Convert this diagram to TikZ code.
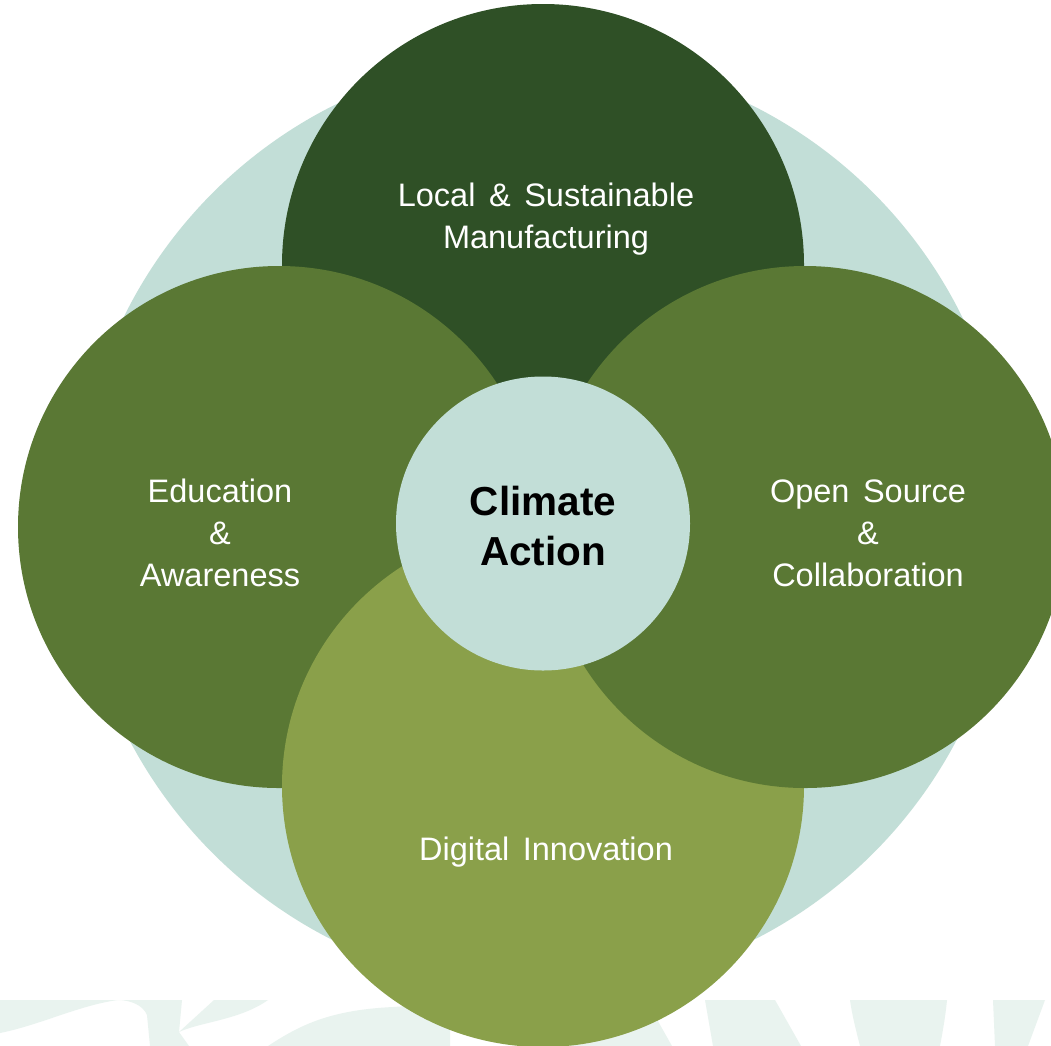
\documentclass[tikz,border=0pt]{standalone}
\usepackage{fontspec}
\setmainfont[WordSpace=1.5]{Liberation Sans}
\definecolor{bgteal}{HTML}{C2DED7}
\definecolor{darkgreen}{HTML}{2F5026}
\definecolor{midgreen}{HTML}{5A7834}
\definecolor{olivegreen}{HTML}{8AA04A}
\definecolor{wmark}{HTML}{E9F3EF}
\begin{document}
\begin{tikzpicture}[x=1pt,y=-1pt,
  disc/.style={circle,inner sep=0pt,minimum size=#1},
  lbl/.style={text=white,align=center,font=\fontsize{32.5}{42}\selectfont,anchor=base},
  wm/.style={fill=wmark}]
\clip (0,0) rectangle (1051,1045);
\fill[white] (0,0) rectangle (1051,1045);
% faint watermark at the bottom
\fill[wm] (0,1000) -- (182,1000) -- (179,1032) -- (189,1046) -- (150,1046) -- (147,1015)
  .. controls (143,1005) and (130,1000) .. (118,1000)
  .. controls (80,1005) and (40,1025) .. (0,1033) -- cycle;
\fill[wm] (214,1000) -- (268,1000) .. controls (240,1020) and (200,1022) .. (179,1032) -- cycle;
\fill[wm] (268,1046) .. controls (300,1025) and (330,1010) .. (393,1007) -- (450,1003) -- (450,1046) -- cycle;
\fill[wm] (560,1000) -- (646,1000) -- (672,1046) -- (560,1046) -- cycle;
\fill[wm] (705,1000) -- (775,1000) -- (801,1046) -- (713,1046) -- cycle;
\fill[wm] (850,1000) -- (947,1000) .. controls (945,1020) and (942,1035) .. (940,1046)
  -- (860,1046) .. controls (856,1030) and (852,1015) .. (850,1000) -- cycle;
\fill[wm] (993,1000) -- (1045,1000) -- (1028,1046) -- (995,1046) -- cycle;
% circles
\node[disc=934pt, fill=bgteal] (ring) at (543,523) {};
\node[disc=522pt, fill=darkgreen] (top) at (543,265) {};
\node[disc=522pt, fill=midgreen] (left) at (279,527) {};
\node[disc=522pt, fill=olivegreen] (bottom) at (543,786) {};
\node[disc=522pt, fill=midgreen] (right) at (805,527) {};
\node[disc=294pt, fill=bgteal] (core) at (543,523.5) {};
% labels (base anchor = baseline of the last line)
\node[lbl] (toplbl) at (546,248) {Local \& Sustainable\\Manufacturing};
\node[lbl] (leftlbl) at (220,586) {Education\\\&\\Awareness};
\node[lbl] (rightlbl) at (868,586) {Open Source\\\&\\Collaboration};
\node[lbl] (bottomlbl) at (546,860) {Digital Innovation};
\node[align=center,anchor=base,font=\bfseries\fontsize{40.5}{50}\selectfont] (corelbl) at (543,565) {Climate\\Action};
\end{tikzpicture}
\end{document}
